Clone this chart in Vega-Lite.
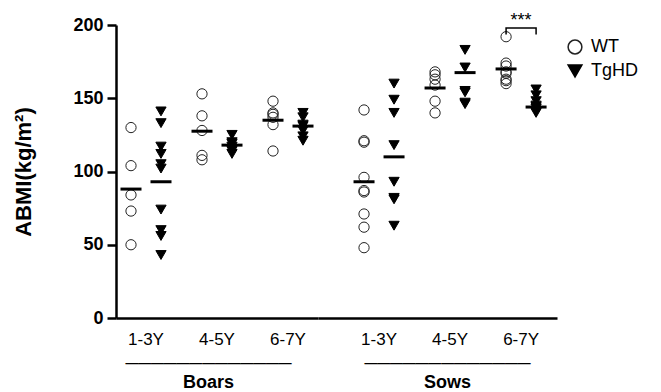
{
  "$schema": "https://vega.github.io/schema/vega-lite/v6.json",
  "background": "white",
  "padding": {"left": 12, "top": 12, "right": 5, "bottom": 0},
  "spacing": 0,
  "datasets": {
    "pts": [
      {"sex": "Boars", "age": "1-3Y", "genotype": "WT", "abmi": 130},
      {"sex": "Boars", "age": "1-3Y", "genotype": "WT", "abmi": 104},
      {"sex": "Boars", "age": "1-3Y", "genotype": "WT", "abmi": 84},
      {"sex": "Boars", "age": "1-3Y", "genotype": "WT", "abmi": 73},
      {"sex": "Boars", "age": "1-3Y", "genotype": "WT", "abmi": 50},
      {"sex": "Boars", "age": "1-3Y", "genotype": "TgHD", "abmi": 141},
      {"sex": "Boars", "age": "1-3Y", "genotype": "TgHD", "abmi": 133},
      {"sex": "Boars", "age": "1-3Y", "genotype": "TgHD", "abmi": 117},
      {"sex": "Boars", "age": "1-3Y", "genotype": "TgHD", "abmi": 112},
      {"sex": "Boars", "age": "1-3Y", "genotype": "TgHD", "abmi": 105},
      {"sex": "Boars", "age": "1-3Y", "genotype": "TgHD", "abmi": 102},
      {"sex": "Boars", "age": "1-3Y", "genotype": "TgHD", "abmi": 74},
      {"sex": "Boars", "age": "1-3Y", "genotype": "TgHD", "abmi": 60},
      {"sex": "Boars", "age": "1-3Y", "genotype": "TgHD", "abmi": 56},
      {"sex": "Boars", "age": "1-3Y", "genotype": "TgHD", "abmi": 43},
      {"sex": "Boars", "age": "4-5Y", "genotype": "WT", "abmi": 153},
      {"sex": "Boars", "age": "4-5Y", "genotype": "WT", "abmi": 138},
      {"sex": "Boars", "age": "4-5Y", "genotype": "WT", "abmi": 128},
      {"sex": "Boars", "age": "4-5Y", "genotype": "WT", "abmi": 111},
      {"sex": "Boars", "age": "4-5Y", "genotype": "WT", "abmi": 108},
      {"sex": "Boars", "age": "4-5Y", "genotype": "TgHD", "abmi": 125},
      {"sex": "Boars", "age": "4-5Y", "genotype": "TgHD", "abmi": 120},
      {"sex": "Boars", "age": "4-5Y", "genotype": "TgHD", "abmi": 119},
      {"sex": "Boars", "age": "4-5Y", "genotype": "TgHD", "abmi": 117},
      {"sex": "Boars", "age": "4-5Y", "genotype": "TgHD", "abmi": 114},
      {"sex": "Boars", "age": "4-5Y", "genotype": "TgHD", "abmi": 112},
      {"sex": "Boars", "age": "6-7Y", "genotype": "WT", "abmi": 148},
      {"sex": "Boars", "age": "6-7Y", "genotype": "WT", "abmi": 140},
      {"sex": "Boars", "age": "6-7Y", "genotype": "WT", "abmi": 139},
      {"sex": "Boars", "age": "6-7Y", "genotype": "WT", "abmi": 137},
      {"sex": "Boars", "age": "6-7Y", "genotype": "WT", "abmi": 132},
      {"sex": "Boars", "age": "6-7Y", "genotype": "WT", "abmi": 114},
      {"sex": "Boars", "age": "6-7Y", "genotype": "TgHD", "abmi": 140},
      {"sex": "Boars", "age": "6-7Y", "genotype": "TgHD", "abmi": 137},
      {"sex": "Boars", "age": "6-7Y", "genotype": "TgHD", "abmi": 132},
      {"sex": "Boars", "age": "6-7Y", "genotype": "TgHD", "abmi": 131},
      {"sex": "Boars", "age": "6-7Y", "genotype": "TgHD", "abmi": 128},
      {"sex": "Boars", "age": "6-7Y", "genotype": "TgHD", "abmi": 124},
      {"sex": "Boars", "age": "6-7Y", "genotype": "TgHD", "abmi": 121},
      {"sex": "Sows", "age": "1-3Y", "genotype": "WT", "abmi": 142},
      {"sex": "Sows", "age": "1-3Y", "genotype": "WT", "abmi": 121},
      {"sex": "Sows", "age": "1-3Y", "genotype": "WT", "abmi": 120},
      {"sex": "Sows", "age": "1-3Y", "genotype": "WT", "abmi": 96},
      {"sex": "Sows", "age": "1-3Y", "genotype": "WT", "abmi": 87},
      {"sex": "Sows", "age": "1-3Y", "genotype": "WT", "abmi": 86},
      {"sex": "Sows", "age": "1-3Y", "genotype": "WT", "abmi": 71},
      {"sex": "Sows", "age": "1-3Y", "genotype": "WT", "abmi": 62},
      {"sex": "Sows", "age": "1-3Y", "genotype": "WT", "abmi": 48},
      {"sex": "Sows", "age": "1-3Y", "genotype": "TgHD", "abmi": 160},
      {"sex": "Sows", "age": "1-3Y", "genotype": "TgHD", "abmi": 149},
      {"sex": "Sows", "age": "1-3Y", "genotype": "TgHD", "abmi": 140},
      {"sex": "Sows", "age": "1-3Y", "genotype": "TgHD", "abmi": 118},
      {"sex": "Sows", "age": "1-3Y", "genotype": "TgHD", "abmi": 93},
      {"sex": "Sows", "age": "1-3Y", "genotype": "TgHD", "abmi": 82},
      {"sex": "Sows", "age": "1-3Y", "genotype": "TgHD", "abmi": 81},
      {"sex": "Sows", "age": "1-3Y", "genotype": "TgHD", "abmi": 63},
      {"sex": "Sows", "age": "4-5Y", "genotype": "WT", "abmi": 168},
      {"sex": "Sows", "age": "4-5Y", "genotype": "WT", "abmi": 166},
      {"sex": "Sows", "age": "4-5Y", "genotype": "WT", "abmi": 163},
      {"sex": "Sows", "age": "4-5Y", "genotype": "WT", "abmi": 159},
      {"sex": "Sows", "age": "4-5Y", "genotype": "WT", "abmi": 148},
      {"sex": "Sows", "age": "4-5Y", "genotype": "WT", "abmi": 140},
      {"sex": "Sows", "age": "4-5Y", "genotype": "TgHD", "abmi": 183},
      {"sex": "Sows", "age": "4-5Y", "genotype": "TgHD", "abmi": 171},
      {"sex": "Sows", "age": "4-5Y", "genotype": "TgHD", "abmi": 155},
      {"sex": "Sows", "age": "4-5Y", "genotype": "TgHD", "abmi": 154},
      {"sex": "Sows", "age": "4-5Y", "genotype": "TgHD", "abmi": 147},
      {"sex": "Sows", "age": "4-5Y", "genotype": "TgHD", "abmi": 146},
      {"sex": "Sows", "age": "6-7Y", "genotype": "WT", "abmi": 192},
      {"sex": "Sows", "age": "6-7Y", "genotype": "WT", "abmi": 174},
      {"sex": "Sows", "age": "6-7Y", "genotype": "WT", "abmi": 172},
      {"sex": "Sows", "age": "6-7Y", "genotype": "WT", "abmi": 168},
      {"sex": "Sows", "age": "6-7Y", "genotype": "WT", "abmi": 167},
      {"sex": "Sows", "age": "6-7Y", "genotype": "WT", "abmi": 163},
      {"sex": "Sows", "age": "6-7Y", "genotype": "WT", "abmi": 162},
      {"sex": "Sows", "age": "6-7Y", "genotype": "WT", "abmi": 160},
      {"sex": "Sows", "age": "6-7Y", "genotype": "TgHD", "abmi": 156},
      {"sex": "Sows", "age": "6-7Y", "genotype": "TgHD", "abmi": 152},
      {"sex": "Sows", "age": "6-7Y", "genotype": "TgHD", "abmi": 148},
      {"sex": "Sows", "age": "6-7Y", "genotype": "TgHD", "abmi": 145},
      {"sex": "Sows", "age": "6-7Y", "genotype": "TgHD", "abmi": 144},
      {"sex": "Sows", "age": "6-7Y", "genotype": "TgHD", "abmi": 143},
      {"sex": "Sows", "age": "6-7Y", "genotype": "TgHD", "abmi": 141},
      {"sex": "Sows", "age": "6-7Y", "genotype": "TgHD", "abmi": 140}
    ],
    "means": [
      {"sex": "Boars", "age": "1-3Y", "genotype": "WT", "abmi": 88},
      {"sex": "Boars", "age": "1-3Y", "genotype": "TgHD", "abmi": 93},
      {"sex": "Boars", "age": "4-5Y", "genotype": "WT", "abmi": 127.5},
      {"sex": "Boars", "age": "4-5Y", "genotype": "TgHD", "abmi": 118},
      {"sex": "Boars", "age": "6-7Y", "genotype": "WT", "abmi": 135},
      {"sex": "Boars", "age": "6-7Y", "genotype": "TgHD", "abmi": 131},
      {"sex": "Sows", "age": "1-3Y", "genotype": "WT", "abmi": 93},
      {"sex": "Sows", "age": "1-3Y", "genotype": "TgHD", "abmi": 110},
      {"sex": "Sows", "age": "4-5Y", "genotype": "WT", "abmi": 157},
      {"sex": "Sows", "age": "4-5Y", "genotype": "TgHD", "abmi": 167.5},
      {"sex": "Sows", "age": "6-7Y", "genotype": "WT", "abmi": 170},
      {"sex": "Sows", "age": "6-7Y", "genotype": "TgHD", "abmi": 144}
    ],
    "bracket": [
      {"age": "6-7Y", "genotype": "WT", "abmi": 193.5, "o": 1},
      {"age": "6-7Y", "genotype": "WT", "abmi": 198, "o": 2},
      {"age": "6-7Y", "genotype": "TgHD", "abmi": 198, "o": 3},
      {"age": "6-7Y", "genotype": "TgHD", "abmi": 193.5, "o": 4}
    ],
    "stars": [
      {"age": "6-7Y", "abmi": 202.5, "label": "***"}
    ]
  },
  "hconcat": [
    {
      "width": 202,
      "height": 293,
      "layer": [
        {
          "data": {"name": "pts"},
          "transform": [{"filter": "datum.sex === 'Boars'"}],
          "mark": {"type": "point", "filled": true, "strokeWidth": 1, "opacity": 1, "size": 105},
          "encoding": {
            "x": {"field": "age", "type": "nominal", "sort": ["1-3Y", "4-5Y", "6-7Y"],
                  "scale": {"paddingInner": 0.155, "paddingOuter": 0},
                  "axis": {"title": ["─────────────", "Boars"], "titleX": 92}},
            "xOffset": {"field": "genotype", "type": "nominal", "sort": ["WT", "TgHD"], "scale": {"paddingInner": 0, "paddingOuter": 0}},
            "y": {"field": "abmi", "type": "quantitative", "scale": {"domain": [0, 200]},
                  "axis": {"title": "ABMI(kg/m²)", "values": [0, 50, 100, 150, 200]}},
            "fill": {"field": "genotype", "type": "nominal", "scale": {"domain": ["WT", "TgHD"], "range": ["transparent", "black"]},
                     "legend": {"title": null}},
            "stroke": {"field": "genotype", "type": "nominal", "scale": {"domain": ["WT", "TgHD"], "range": ["#222", "black"]},
                     "legend": {"title": null}},
            "shape": {"field": "genotype", "type": "nominal", "scale": {"domain": ["WT", "TgHD"], "range": ["circle", "triangle-down"]},
                      "legend": {"title": null}}
          }
        },
        {
          "data": {"name": "means"},
          "transform": [{"filter": "datum.sex === 'Boars'"}],
          "mark": {"type": "tick", "color": "black", "size": 21, "thickness": 3, "opacity": 1},
          "encoding": {
            "x": {"field": "age", "type": "nominal", "sort": ["1-3Y", "4-5Y", "6-7Y"]},
            "xOffset": {"field": "genotype", "type": "nominal", "sort": ["WT", "TgHD"]},
            "y": {"field": "abmi", "type": "quantitative"}
          }
        }
      ]
    },
    {
      "width": 239,
      "height": 293,
      "layer": [
        {
          "data": {"name": "pts"},
          "transform": [{"filter": "datum.sex === 'Sows'"}],
          "mark": {"type": "point", "filled": true, "strokeWidth": 1, "opacity": 1, "size": 105},
          "encoding": {
            "x": {"field": "age", "type": "nominal", "sort": ["1-3Y", "4-5Y", "6-7Y"],
                  "scale": {"paddingInner": 0.155, "paddingOuter": 0.26, "align": 0.84},
                  "axis": {"title": ["─────────────", "Sows"], "titleX": 129}},
            "xOffset": {"field": "genotype", "type": "nominal", "sort": ["WT", "TgHD"], "scale": {"paddingInner": 0, "paddingOuter": 0}},
            "y": {"field": "abmi", "type": "quantitative", "scale": {"domain": [0, 200]}, "axis": null},
            "fill": {"field": "genotype", "type": "nominal", "scale": {"domain": ["WT", "TgHD"], "range": ["transparent", "black"]},
                     "legend": {"title": null}},
            "stroke": {"field": "genotype", "type": "nominal", "scale": {"domain": ["WT", "TgHD"], "range": ["#222", "black"]},
                     "legend": {"title": null}},
            "shape": {"field": "genotype", "type": "nominal", "scale": {"domain": ["WT", "TgHD"], "range": ["circle", "triangle-down"]},
                      "legend": {"title": null}}
          }
        },
        {
          "data": {"name": "means"},
          "transform": [{"filter": "datum.sex === 'Sows'"}],
          "mark": {"type": "tick", "color": "black", "size": 21, "thickness": 3, "opacity": 1},
          "encoding": {
            "x": {"field": "age", "type": "nominal", "sort": ["1-3Y", "4-5Y", "6-7Y"]},
            "xOffset": {"field": "genotype", "type": "nominal", "sort": ["WT", "TgHD"]},
            "y": {"field": "abmi", "type": "quantitative", "axis": null}
          }
        },
        {
          "data": {"name": "bracket"},
          "mark": {"type": "line", "color": "black", "strokeWidth": 1.5},
          "encoding": {
            "x": {"field": "age", "type": "nominal", "sort": ["1-3Y", "4-5Y", "6-7Y"]},
            "xOffset": {"field": "genotype", "type": "nominal", "sort": ["WT", "TgHD"]},
            "y": {"field": "abmi", "type": "quantitative", "axis": null},
            "order": {"field": "o", "type": "quantitative"}
          }
        },
        {
          "data": {"name": "stars"},
          "mark": {"type": "text", "font": "Liberation Sans", "fontSize": 18, "color": "black", "baseline": "middle"},
          "encoding": {
            "x": {"field": "age", "type": "nominal", "sort": ["1-3Y", "4-5Y", "6-7Y"]},
            "y": {"field": "abmi", "type": "quantitative", "axis": null},
            "text": {"field": "label"}
          }
        }
      ]
    }
  ],
  "resolve": {"scale": {"xOffset": "independent", "fill": "shared", "shape": "shared", "stroke": "shared"}, "legend": {"fill": "shared", "shape": "shared", "stroke": "shared"}},
  "config": {
    "view": {"stroke": null},
    "axis": {"grid": false, "domainColor": "black", "tickColor": "black", "labelColor": "black", "titleColor": "black", "font": "Liberation Sans"},
    "axisX": {"ticks": false, "domainWidth": 2.5, "labelFont": "Liberation Sans", "labelFontSize": 17, "labelFontWeight": "normal", "labelPadding": 13, "labelAngle": 0,
              "titleFont": "Liberation Sans, DejaVu Sans", "titleFontSize": 18, "titleFontWeight": "bold", "titlePadding": 7, "titleLineHeight": 19},
    "axisY": {"domainWidth": 2.5, "tickWidth": 2.5, "tickSize": 9, "labelFont": "Liberation Sans", "labelFontSize": 18, "labelFontWeight": "bold", "labelPadding": 4,
              "titleFont": "Liberation Sans", "titleFontSize": 22, "titleFontWeight": "bold", "titlePadding": 37},
    "legend": {"orient": "right", "offset": -4, "padding": 13, "labelFont": "Liberation Sans", "labelFontSize": 18, "labelColor": "black", "labelOffset": 7,
               "symbolSize": 190, "symbolStrokeWidth": 1.5, "rowPadding": 5}
  }
}
